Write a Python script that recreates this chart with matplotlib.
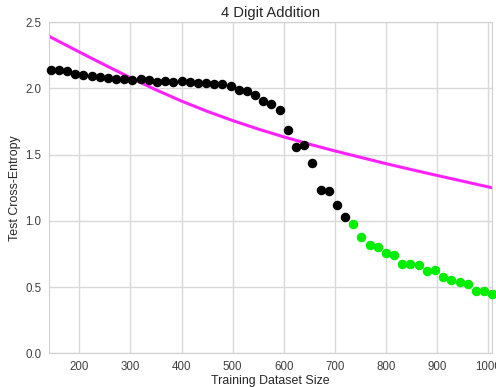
import numpy as np
import matplotlib
matplotlib.use('Agg')
import matplotlib.pyplot as plt
import seaborn as sns

sns.set_style('whitegrid')
plt.rcParams['font.family'] = ['Liberation Sans', 'DejaVu Sans']

# training dataset sizes for each measured run
sizes = [16 * k for k in range(9, 64)]

# test cross-entropy (black = not yet solved, green = solved)
loss = [2.141, 2.136, 2.128, 2.111, 2.101, 2.096, 2.086, 2.081, 2.073, 2.071,
        2.066, 2.071, 2.063, 2.051, 2.053, 2.048, 2.053, 2.045, 2.043, 2.041,
        2.035, 2.030, 2.020, 1.990, 1.977, 1.952, 1.907, 1.884, 1.834, 1.683,
        1.560, 1.575, 1.439, 1.230, 1.222, 1.119, 1.026,
        0.978, 0.878, 0.816, 0.806, 0.757, 0.744, 0.678, 0.676, 0.671, 0.625,
        0.633, 0.580, 0.557, 0.538, 0.525, 0.470, 0.470, 0.449]
n_black = 37

# fitted curve (magenta), sampled from the chart
fit_x = [140.7, 150, 200, 250, 300, 350, 400, 450, 500, 550, 600, 650,
         700, 750, 800, 850, 900, 950, 1007.6]
fit_y = [2.393, 2.374, 2.274, 2.176, 2.080, 1.989, 1.904, 1.827, 1.757,
         1.693, 1.634, 1.579, 1.528, 1.480, 1.432, 1.387, 1.343, 1.300, 1.250]


def main():
    fig = plt.figure(figsize=(4.96, 3.87), dpi=100)
    ax = fig.add_axes([0.0988, 0.0866, 0.8932, 0.8564])

    ax.scatter(sizes[:n_black], loss[:n_black], s=34, color='black', zorder=3, clip_on=False)
    ax.scatter(sizes[n_black:], loss[n_black:], s=34, color='#00ee00', zorder=3, clip_on=False)
    ax.plot(fit_x, fit_y, color='#ff22ff', linewidth=2.2, zorder=2)

    ax.set_xlim(140.7, 1007.6)
    ax.set_ylim(0, 2.5)
    ax.set_xticks(range(200, 1001, 100))
    ax.set_yticks([0.0, 0.5, 1.0, 1.5, 2.0, 2.5])
    ax.tick_params(labelsize=8.3, colors='#404040', pad=2)
    ax.set_xlabel('Training Dataset Size', fontsize=8.9, color='#262626', labelpad=1)
    ax.set_ylabel('Test Cross-Entropy', fontsize=8.9, color='#262626', labelpad=3)
    ax.set_title('4 Digit Addition', fontsize=10.6, color='#262626', pad=4)
    ax.grid(color='#d9d9d9', linewidth=1)
    for sp in ax.spines.values():
        sp.set_color('#d0d0d0')

    fig.savefig('out.png', dpi=100)


if __name__ == '__main__':
    main()
